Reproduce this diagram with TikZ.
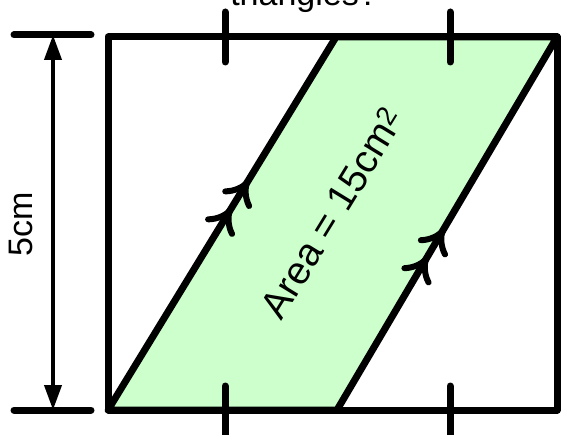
\documentclass[tikz,border=0pt]{standalone}
\usepackage{fontspec}
\setmainfont{Liberation Sans}
\usetikzlibrary{arrows.meta}
\definecolor{areagreen}{RGB}{204,255,204}
\tikzset{
  thick line/.style={line width=7pt, line cap=round, line join=round},
  chevron/.pic={
    \draw[line width=6pt, line cap=round] (-19,14) .. controls (-14,6) and (-6,1) .. (0,0)
                                    .. controls (-6,-1) and (-14,-6) .. (-19,-14);
  },
  big text/.style={font=\fontsize{34}{40}\selectfont}
}
\begin{document}
\begin{tikzpicture}[x=1pt,y=-1pt]
  \useasboundingbox (0,0) rectangle (564,435);
  % square and parallelogram
  \coordinate (bl) at (108,410);
  \coordinate (br) at (337,410);
  \coordinate (tr) at (557,37);
  \coordinate (tl) at (336,37);
  \coordinate (sqtl) at (108,37);
  \coordinate (sqbr) at (557,410);
  \filldraw[fill=areagreen, thick line] (bl) -- (br) -- (tr) -- (tl) -- cycle;
  \draw[thick line] (sqtl) rectangle (sqbr);
  % equal-length ticks
  \foreach \x in {225,450} {
    \draw[thick line] (\x,12) -- (\x,62);
    \draw[thick line] (\x,386) -- (\x,445);
  }
  % parallel arrows
  \path (bl) -- (tl) pic[pos=0.61, sloped]{chevron} pic[pos=0.535, sloped]{chevron};
  \path (br) -- (tr) pic[pos=0.48, sloped]{chevron} pic[pos=0.405, sloped]{chevron};
  % height dimension
  \coordinate (dimtop) at (53,35);
  \coordinate (dimbot) at (53,410);
  \draw[thick line] (14,35) -- (91,35);
  \draw[thick line] (14,410) -- (91,410);
  \draw[line width=4pt, {Triangle[length=25pt,width=17pt]}-{Triangle[length=25pt,width=17pt]}] (dimtop) -- (dimbot);
  % labels
  \node[big text, anchor=base] (question) at (304,6) {triangles?};
  \node[big text, rotate=90] (height) at (21,224) {5cm};
  \node[font=\fontsize{39}{46}\selectfont, rotate=58.5] (area) at (332,213) {Area = 15cm\textsuperscript{2}};
\end{tikzpicture}
\end{document}
